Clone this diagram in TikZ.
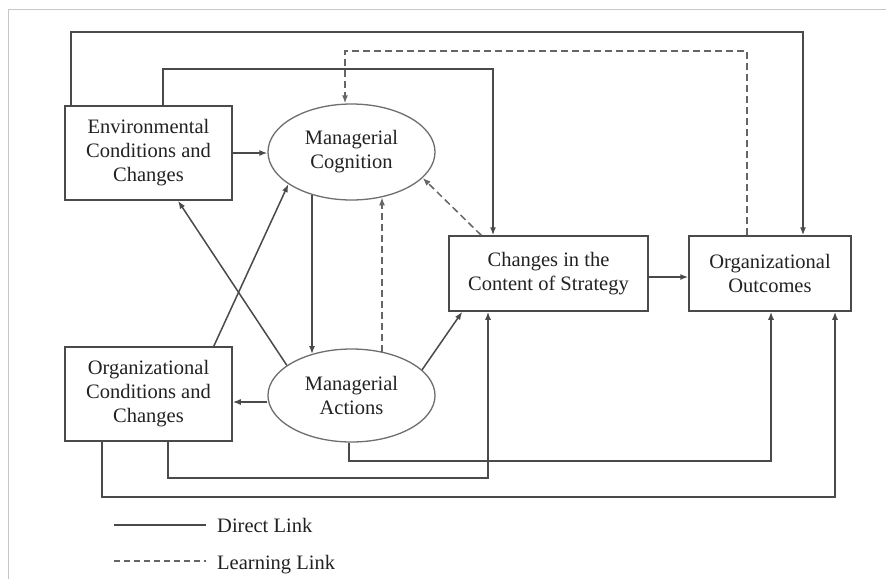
\documentclass[tikz,border=0pt]{standalone}
\usepackage{fontspec}
\setmainfont{Liberation Serif}
\newfontfamily\figfont{Liberation Serif}
\usetikzlibrary{shapes.geometric,arrows.meta}
\definecolor{ln}{HTML}{4A4A4A}
\definecolor{txt}{HTML}{222222}
\tikzset{
  boxnode/.style={draw=ln, line width=1.5pt, rectangle, inner sep=0pt, align=center, text=txt,
    font=\figfont\fontsize{20.5}{24}\selectfont},
  ellnode/.style={draw=ln!80, line width=1.3pt, ellipse, inner sep=0pt, align=center, text=txt,
    font=\figfont\fontsize{20.5}{24}\selectfont},
  direct/.style={draw=ln, line width=1.5pt},
  learn/.style={draw=ln!85, line width=1.5pt, dash pattern=on 7pt off 4pt},
  tip/.style={-{Latex[length=8pt,width=6pt]}},
  legtext/.style={anchor=west, inner sep=0pt, text=txt, font=\figfont\fontsize{20.5}{24}\selectfont},
}
\begin{document}
\begin{tikzpicture}[x=1pt,y=-1pt]
\useasboundingbox (0,0) rectangle (886,579);
\fill[white] (0,0) rectangle (886,579);
% page frame
\draw[black!22, line width=1pt] (8,579) -- (8,9) -- (886,9);

% nodes
\node[boxnode, minimum width=167pt, minimum height=94pt] (env) at (148.5,153) {Environmental\\Conditions and\\Changes};
\node[ellnode, minimum width=167pt, minimum height=96pt] (cog) at (351.5,152) {Managerial\\Cognition};
\node[boxnode, minimum width=199pt, minimum height=75pt] (chg) at (548.5,273.5) {Changes in the\\Content of Strategy};
\node[boxnode, minimum width=162pt, minimum height=75pt] (out) at (770,273.5) {Organizational\\Outcomes};
\node[boxnode, minimum width=167pt, minimum height=94pt] (orgc) at (148.5,394) {Organizational\\Conditions and\\Changes};
\node[ellnode, minimum width=167pt, minimum height=93pt] (act) at (351.5,395.5) {Managerial\\Actions};

% helper coordinates
\coordinate (j1) at (71,32);  \coordinate (j2) at (803,32);
\coordinate (j3) at (163,69); \coordinate (j4) at (493,69);
\coordinate (k1) at (747,51); \coordinate (k2) at (345,51);
\coordinate (h1) at (0,402);
\coordinate (v1) at (312,0);  \coordinate (v2) at (382,0);
\coordinate (b1) at (349,461); \coordinate (b2) at (771,461);
\coordinate (c1) at (168,478); \coordinate (c2) at (488,478);
\coordinate (d1) at (102,497); \coordinate (d2) at (835,497);

% top connectors
\draw[direct,tip] (env.north -| j1) -- (j1) -- (j2) -- (out.north -| j2);
\draw[direct,tip] (env.north -| j3) -- (j3) -- (j4) -- (chg.north -| j4);
\draw[learn,tip] (out.north -| k1) -- (k1) -- (k2) -- (cog.north -| k2);

% horizontal links
\draw[direct,tip] (env.east) -- (cog.west |- env.east);
\draw[direct,tip] (chg.east |- 0,277) -- (out.west |- 0,277);
\draw[direct,tip] (act.west |- h1) -- (orgc.east |- h1);

% vertical links between ellipses
\draw[direct,tip] (cog.227 -| v1) -- (act.134 -| v1);
\draw[learn,tip] (act.55 -| v2) -- (cog.304 -| v2);

% diagonal links
\draw[learn,tip] ([xshift=33pt]chg.north west) -- (cog.-20);
\draw[direct,tip] ([xshift=-19pt]orgc.north east) -- (cog.207);
\draw[direct,tip] (act.155) -- ([xshift=29.5pt]env.south);
\draw[direct,tip] (act.20) -- ([xshift=14pt]chg.south west);

% bottom connectors
\draw[direct,tip] (act.south -| b1) -- (b1) -- (b2) -- (out.south -| b2);
\draw[direct,tip] (orgc.south -| c1) -- (c1) -- (c2) -- (chg.south -| c2);
\draw[direct,tip] (orgc.south -| d1) -- (d1) -- (d2) -- (out.south -| d2);

% legend
\coordinate (l1) at (114,525); \coordinate (l2) at (206,525);
\coordinate (l3) at (114,561); \coordinate (l4) at (206,561);
\draw[direct, line width=1.2pt] (l1) -- (l2);
\draw[learn, line width=1.2pt, dash pattern=on 6pt off 4pt] (l3) -- (l4);
\node[legtext] (ldir) at (217,525) {Direct Link};
\node[legtext, anchor=base west] (llearn) at (217,569) {Learning Link};
\end{tikzpicture}
\end{document}
